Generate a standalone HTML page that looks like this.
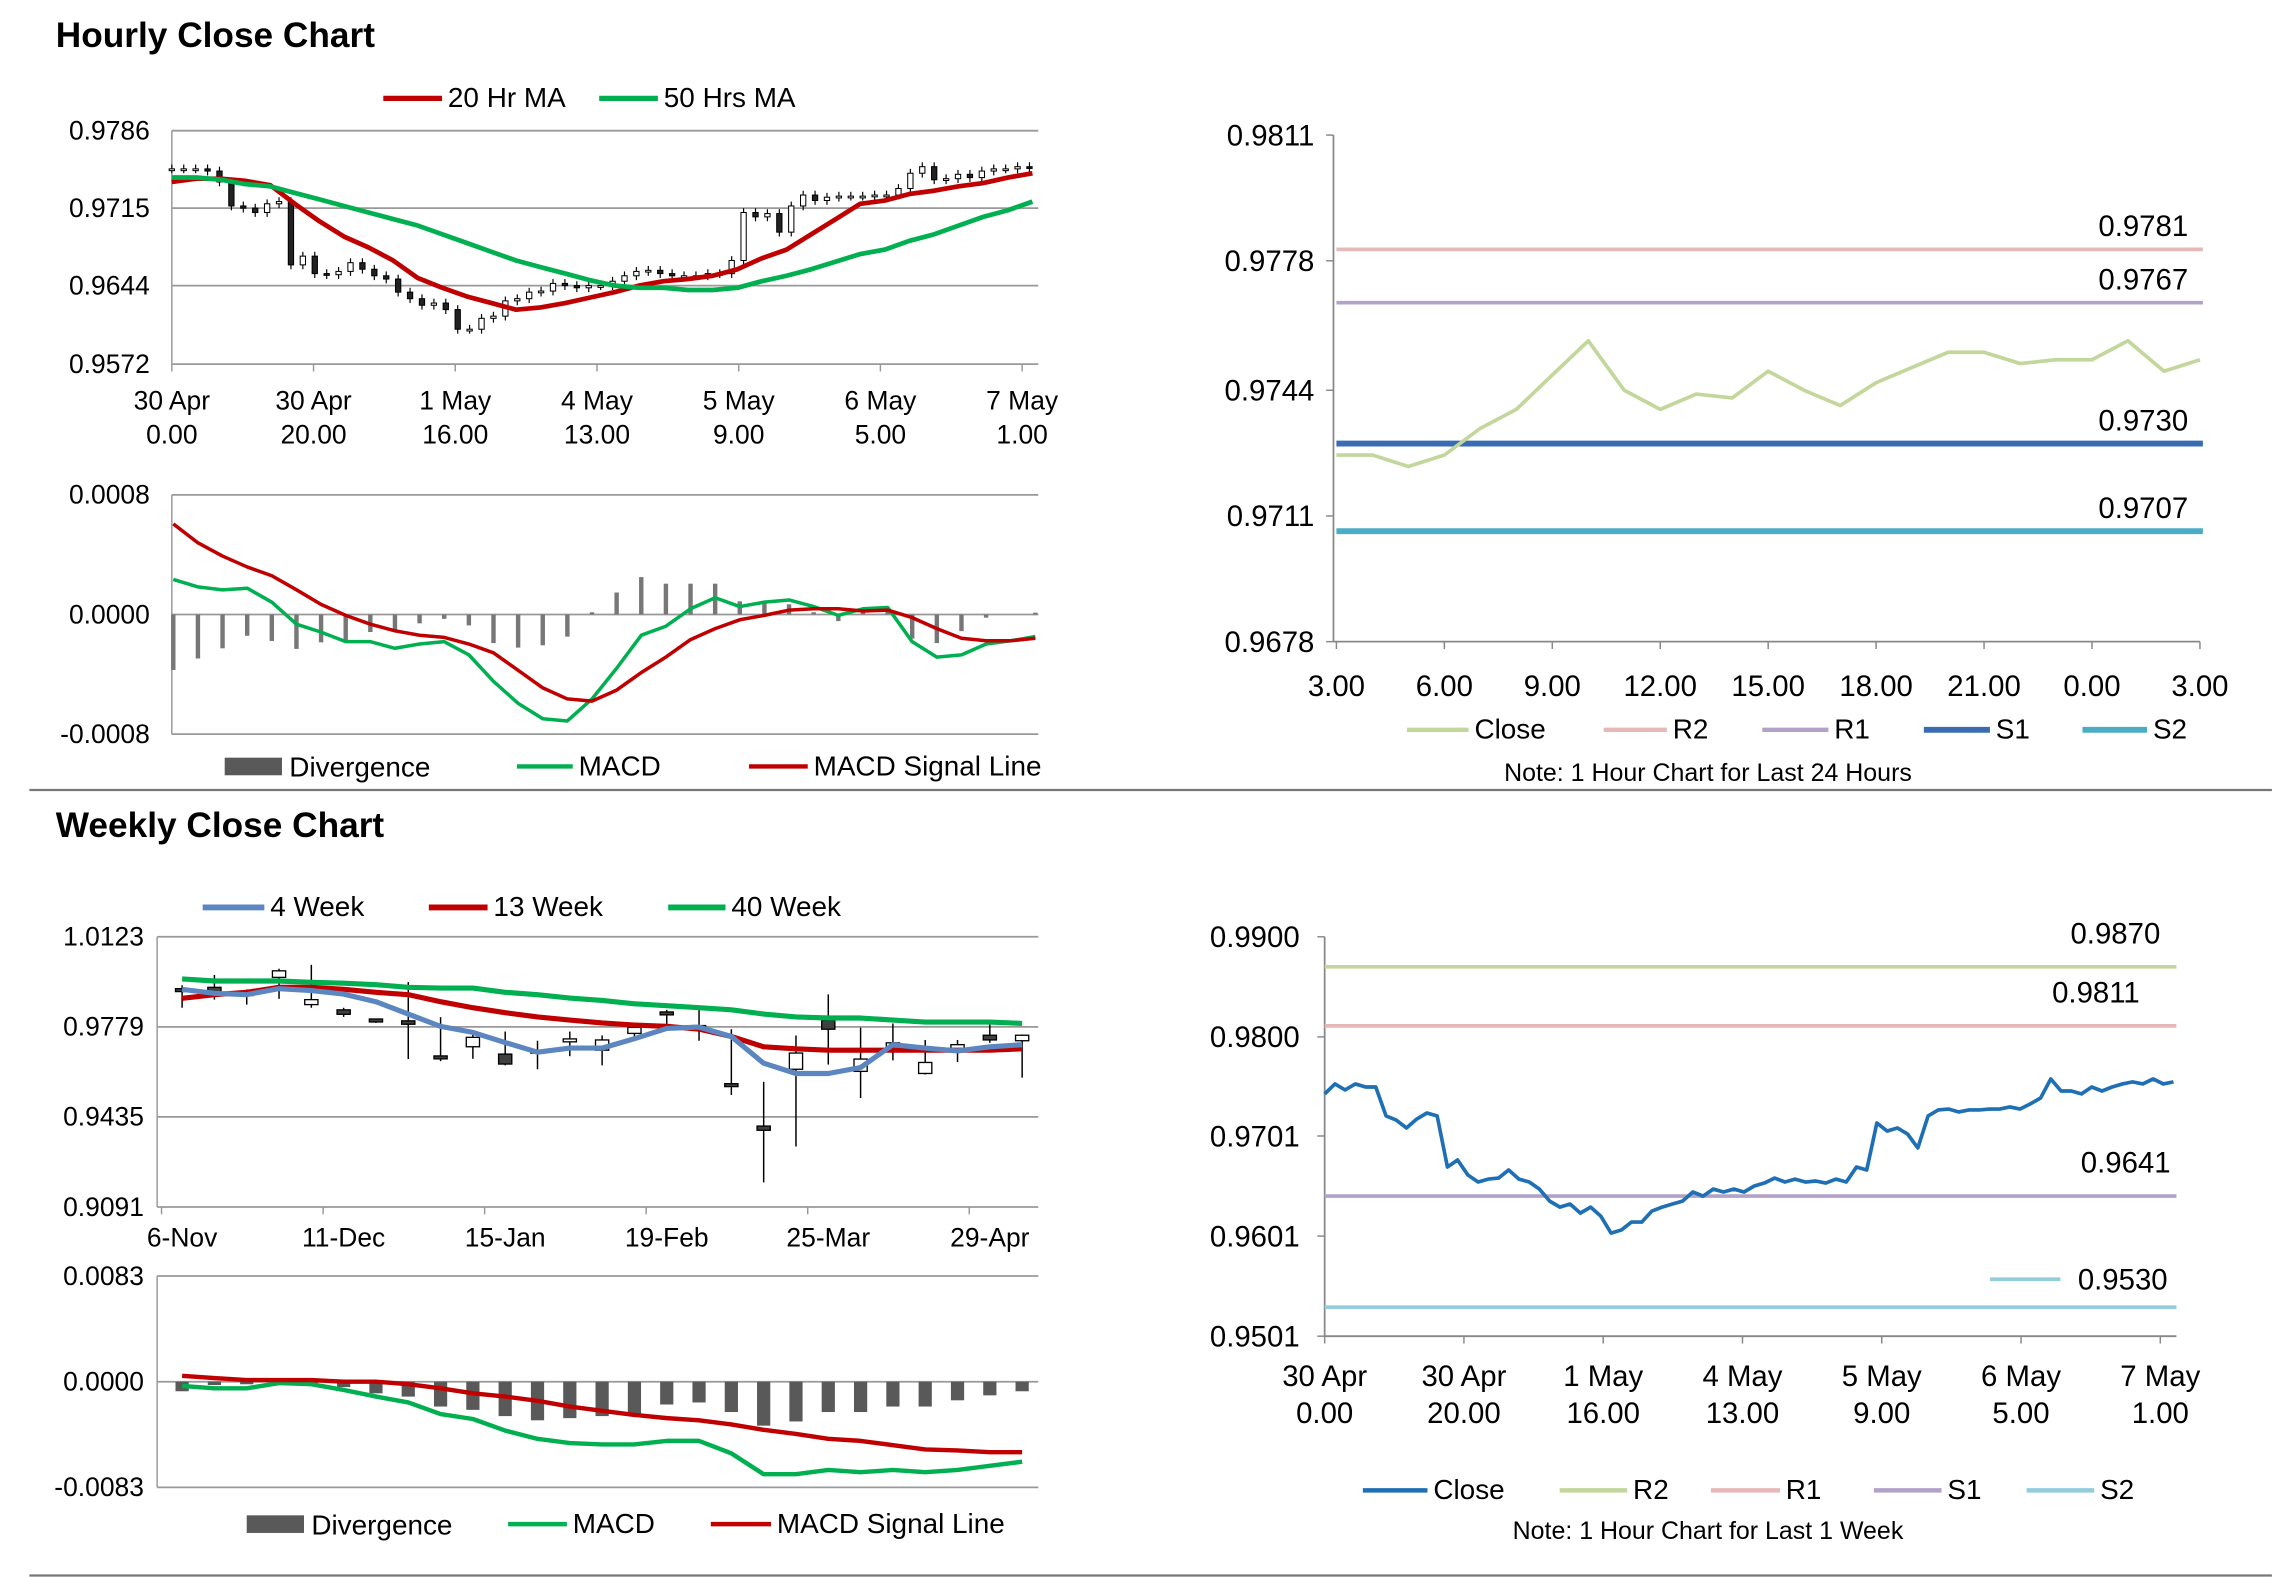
<!DOCTYPE html>
<html><head><meta charset="utf-8">
<style>
html,body{margin:0;padding:0;background:#fff;}
svg{display:block;}
text{font-family:"Liberation Sans Narrow","Liberation Sans",sans-serif;fill:#000;}
.t{font-family:"Liberation Sans",sans-serif;font-weight:bold;}
</style></head>
<body>
<svg id="root" xmlns="http://www.w3.org/2000/svg" width="2291" height="1577" viewBox="0 0 1560 1074" preserveAspectRatio="none">
<rect x="0" y="0" width="1560" height="1074" fill="#fff"/>
<text class="t" x="38" y="32" font-size="24">Hourly Close Chart</text>
<line x1="20" y1="538" x2="1547" y2="538" stroke="#777" stroke-width="1.5"/>
<text class="t" x="38" y="570" font-size="24">Weekly Close Chart</text>
<line x1="20" y1="1073" x2="1547" y2="1073" stroke="#777" stroke-width="1.5"/>
</svg>
<script>
// ---------- data ----------
const hourlyCloses=[0.9751,0.9751,0.9751,0.9749,0.9739,0.9717,0.9715,0.9711,0.9719,0.9721,0.9663,0.9671,0.9655,0.9654,0.9657,0.9665,0.9659,0.9653,0.9650,0.9638,0.9632,0.9626,0.9628,0.9622,0.9604,0.9604,0.9614,0.9616,0.9630,0.9632,0.9638,0.9639,0.9646,0.9644,0.9642,0.9644,0.9644,0.9648,0.9653,0.9657,0.9658,0.9655,0.9653,0.9653,0.9653,0.9655,0.9655,0.9667,0.9711,0.9707,0.9710,0.9693,0.9717,0.9727,0.9722,0.9725,0.9726,0.9726,0.9726,0.9727,0.9727,0.9733,0.9747,0.9753,0.9741,0.9742,0.9746,0.9743,0.9749,0.9751,0.9751,0.9753,0.9752];
const ma20=[0.9739,0.9742,0.9742,0.9740,0.9736,0.9719,0.9703,0.9689,0.9679,0.9667,0.9651,0.9642,0.9634,0.9628,0.9622,0.9624,0.9628,0.9633,0.9638,0.9644,0.9648,0.9650,0.9653,0.9659,0.9669,0.9677,0.9691,0.9705,0.9719,0.9722,0.9728,0.9731,0.9735,0.9738,0.9743,0.9747];
const ma50=[0.9743,0.9743,0.9741,0.9737,0.9735,0.9729,0.9723,0.9717,0.9711,0.9705,0.9699,0.9691,0.9683,0.9675,0.9667,0.9661,0.9655,0.9649,0.9644,0.9642,0.9642,0.9640,0.9640,0.9642,0.9648,0.9653,0.9659,0.9666,0.9673,0.9677,0.9685,0.9691,0.9699,0.9707,0.9713,0.9721];
const hMacd=[2.35,1.85,1.65,1.76,0.82,-0.65,-1.18,-1.82,-1.82,-2.26,-1.97,-1.82,-2.70,-4.47,-5.94,-6.97,-7.12,-5.64,-3.59,-1.38,-0.79,0.38,1.12,0.53,0.82,0.97,0.53,-0.06,0.38,0.47,-1.82,-2.85,-2.70,-1.97,-1.76,-1.47];
const hSignal=[6.06,4.79,3.91,3.18,2.59,1.65,0.68,-0.06,-0.65,-1.09,-1.38,-1.53,-1.97,-2.56,-3.73,-4.91,-5.64,-5.79,-5.06,-3.88,-2.85,-1.68,-0.94,-0.35,-0.06,0.29,0.38,0.38,0.24,0.29,-0.21,-0.94,-1.59,-1.76,-1.76,-1.59];
const hTickLabels=[["30 Apr","0.00"],["30 Apr","20.00"],["1 May","16.00"],["4 May","13.00"],["5 May","9.00"],["6 May","5.00"],["7 May","1.00"]];

const dayClose=[0.9727,0.9727,0.9724,0.9727,0.9734,0.9739,0.9748,0.9757,0.9744,0.9739,0.9743,0.9742,0.9749,0.9744,0.9740,0.9746,0.9750,0.9754,0.9754,0.9751,0.9752,0.9752,0.9757,0.9749,0.9752];
const dayLevels=[0.9781,0.9767,0.9730,0.9707];
const dayLevelNames=["R2","R1","S1","S2"];
const dayTicks=["3.00","6.00","9.00","12.00","15.00","18.00","21.00","0.00","3.00"];

const wOpen=[0.9925,0.9930,0.9910,0.9968,0.9864,0.9844,0.9809,0.9802,0.9668,0.9703,0.9675,0.9690,0.9726,0.9690,0.9754,0.9836,0.9784,0.9562,0.9400,0.9617,0.9804,0.9609,0.9703,0.9601,0.9695,0.9747,0.9726];
const wClose=[0.9917,0.9911,0.9903,0.9993,0.9883,0.9827,0.9798,0.9789,0.9657,0.9739,0.9637,0.9682,0.9733,0.9729,0.9777,0.9827,0.9777,0.9554,0.9384,0.9679,0.9770,0.9656,0.9718,0.9643,0.9711,0.9729,0.9747];
const wHigh=[0.9938,0.9977,0.9922,1.0001,1.0016,0.9852,0.9809,0.9950,0.9816,0.9750,0.9761,0.9726,0.9761,0.9746,0.9781,0.9844,0.9844,0.9770,0.9569,0.9746,0.9903,0.9776,0.9792,0.9729,0.9729,0.9789,0.9750];
const wLow=[0.9852,0.9883,0.9864,0.9886,0.9852,0.9817,0.9794,0.9656,0.9648,0.9657,0.9632,0.9617,0.9667,0.9632,0.9742,0.9781,0.9726,0.9519,0.9185,0.9322,0.9635,0.9507,0.9651,0.9597,0.9645,0.9718,0.9585];
const w4=[0.9922,0.9907,0.9902,0.9925,0.9918,0.9904,0.9875,0.9828,0.9781,0.9758,0.9719,0.9682,0.9698,0.9698,0.9734,0.9773,0.9778,0.9742,0.9640,0.9601,0.9601,0.9624,0.9711,0.9698,0.9687,0.9703,0.9711];
const w13=[0.9888,0.9902,0.9911,0.9930,0.9930,0.9922,0.9911,0.9902,0.9875,0.9852,0.9833,0.9817,0.9805,0.9794,0.9786,0.9781,0.9770,0.9742,0.9703,0.9695,0.9690,0.9690,0.9690,0.9690,0.9690,0.9690,0.9695];
const w40=[0.9962,0.9954,0.9954,0.9954,0.9949,0.9946,0.9940,0.9930,0.9927,0.9927,0.9911,0.9902,0.9889,0.9880,0.9867,0.9860,0.9852,0.9844,0.9828,0.9817,0.9813,0.9813,0.9805,0.9797,0.9797,0.9797,0.9792];
const wTickLabels=["6-Nov","11-Dec","15-Jan","19-Feb","25-Mar","29-Apr"];
const wDiv=[-7.5,-2.6,-2.0,-0.3,-1.0,-4.2,-9.1,-11.7,-19.5,-22.1,-27.0,-30.3,-28.6,-27.0,-25.4,-17.9,-16.3,-23.8,-34.5,-31.2,-23.8,-23.8,-19.5,-19.5,-14.6,-10.7,-7.5];
const wMacd=[-3.3,-5.2,-5.2,-1.0,-2.0,-6.5,-11.7,-16.3,-25.4,-29.3,-38.4,-44.9,-48.2,-49.2,-49.2,-46.5,-46.5,-56.3,-72.6,-72.6,-69.3,-71.0,-69.3,-71.0,-69.3,-66.1,-62.8];
const wSignal=[4.6,2.9,1.3,1.3,1.3,0,0,-2.0,-5.2,-9.1,-11.7,-15.0,-19.5,-22.8,-26.0,-28.6,-30.3,-33.5,-37.8,-41.0,-44.9,-46.5,-49.8,-53.1,-54.0,-55.3,-55.3];

const weekClose=[0.9743,0.9753,0.9747,0.9753,0.9750,0.9750,0.9721,0.9717,0.9709,0.9718,0.9724,0.9721,0.9670,0.9677,0.9662,0.9655,0.9658,0.9659,0.9667,0.9658,0.9655,0.9648,0.9636,0.9630,0.9633,0.9624,0.9630,0.9621,0.9604,0.9607,0.9615,0.9615,0.9626,0.9630,0.9633,0.9636,0.9645,0.9641,0.9648,0.9645,0.9648,0.9645,0.9651,0.9654,0.9659,0.9655,0.9658,0.9655,0.9656,0.9654,0.9658,0.9655,0.9670,0.9667,0.9714,0.9706,0.9709,0.9703,0.9689,0.9721,0.9727,0.9728,0.9725,0.9727,0.9727,0.9728,0.9728,0.9730,0.9728,0.9733,0.9739,0.9758,0.9746,0.9746,0.9743,0.9750,0.9746,0.9750,0.9753,0.9755,0.9753,0.9758,0.9753,0.9755];
const weekLevels=[0.9870,0.9811,0.9641,0.9530];
const weekLevelNames=["R2","R1","S1","S2"];
const weekYTicks=[0.9900,0.9800,0.9701,0.9601,0.9501];

// ---------- helpers ----------
const NS='http://www.w3.org/2000/svg';
const root=document.getElementById('root');
function mk(tag,attrs,parent){const e=document.createElementNS(NS,tag);for(const k in attrs)e.setAttribute(k,attrs[k]);(parent||root).appendChild(e);return e;}
function lin(d0,d1,r0,r1){return v=>r0+(v-d0)/(d1-d0)*(r1-r0);}
function txt(x,y,s,size,anchor,parent){const e=mk('text',{x:x,y:y,'font-size':size,'text-anchor':anchor||'start'},parent);e.textContent=s;return e;}
function poly(arr,xs,ys,color,w,parent){return mk('polyline',{points:arr.map((v,i)=>xs(i).toFixed(1)+','+ys(v).toFixed(1)).join(' '),fill:'none',stroke:color,'stroke-width':w,'stroke-linejoin':'round'},parent);}
function legLine(x1,x2,y,color,w,label,parent){const g=mk('g',{},parent);mk('line',{x1:x1,y1:y,x2:x2,y2:y,stroke:color,'stroke-width':w},g);txt(x2+4,y+6,label,19,'start',g);return g;}
const RED='#c00000',GRN='#00b050';

// ---------- Chart 1: hourly candles ----------
(function(){
  const g=mk('g',{});
  
  
  const ys=lin(0.9572,0.9786,248,89);
  [0.9786,0.9715,0.9644,0.9572].forEach(v=>{
    const l=mk('line',{x1:117,y1:ys(v),x2:707,y2:ys(v),stroke:'#999','stroke-width':1.2},g);
    
    
    const t=txt(102,ys(v)+6,v.toFixed(4),18,'end',g);
    
    
  });
  mk('line',{x1:117,y1:89,x2:117,y2:248,stroke:'#999','stroke-width':1},g);
  const xt=lin(0,6,117,696);
  hTickLabels.forEach((p,i)=>{
    mk('line',{x1:xt(i),y1:248,x2:xt(i),y2:253,stroke:'#999'},g);
    const t=txt(xt(i),279,p[0],18,'middle',g);
    
    
    txt(xt(i),302,p[1],18,'middle',g);
  });
  const xc=lin(0,hourlyCloses.length-1,117,701);
  hourlyCloses.forEach((c,i)=>{
    const o=i?hourlyCloses[i-1]:c;
    const hi=Math.max(o,c)+0.0004, lo=Math.min(o,c)-0.0004;
    const cg=mk('g',{},g);
    
    
    mk('line',{x1:xc(i),y1:ys(hi),x2:xc(i),y2:ys(lo),stroke:'#000','stroke-width':0.8},cg);
    const top=ys(Math.max(o,c)),h=Math.max(1.2,ys(Math.min(o,c))-top);
    mk('rect',{x:xc(i)-1.8,y:top,width:3.6,height:h,fill:c<o?'#222':'#fff',stroke:'#000','stroke-width':0.7},cg);
  });
  const xm=lin(0,ma20.length-1,117,703);
  const r=poly(ma20,xm,ys,RED,3.2,g);
  
  
  const gr=poly(ma50,xm,ys,GRN,3.2,g);
  
  
  const l1=legLine(261,301,67,RED,3.5,'20 Hr MA',g);
  
  
  const l2=legLine(408,448,67,GRN,3.5,'50 Hrs MA',g);
  
  
})();

// ---------- Chart 1b: hourly MACD ----------
(function(){
  const g=mk('g',{});
  
  
  const ys=lin(-8,8,500,337);
  [[8,'0.0008'],[0,'0.0000'],[-8,'-0.0008']].forEach(p=>{
    mk('line',{x1:117,y1:ys(p[0]),x2:707,y2:ys(p[0]),stroke:'#999','stroke-width':1.2},g);
    const t=txt(102,ys(p[0])+6,p[1],18,'end',g);
    
    
  });
  mk('line',{x1:117,y1:337,x2:117,y2:500,stroke:'#999'},g);
  const xm=lin(0,hMacd.length-1,118,705);
  hMacd.forEach((m,i)=>{
    const d=m-hSignal[i];
    const b=mk('rect',{x:xm(i)-1.5,y:Math.min(ys(0),ys(d)),width:3,height:Math.abs(ys(d)-ys(0)),fill:'#777'},g);
    
    
  });
  const a=poly(hMacd,xm,ys,GRN,2.4,g);
  
  
  const s=poly(hSignal,xm,ys,RED,2.4,g);
  
  
  const lg=mk('g',{},g);
  
  
  mk('rect',{x:153,y:516,width:39,height:12,fill:'#595959'},lg);
  txt(197,529,'Divergence',19,'start',lg);
  legLine(352,390,522,GRN,3,'MACD',lg);
  legLine(510,550,522,RED,3,'MACD Signal Line',lg);
})();

// ---------- Chart 2: last 24 hours ----------
(function(){
  const g=mk('g',{});
  
  
  const ys=lin(0.9678,0.9811,437,92);
  mk('line',{x1:908,y1:92,x2:908,y2:437,stroke:'#888','stroke-width':1.2},g);
  mk('line',{x1:908,y1:437,x2:1498,y2:437,stroke:'#888','stroke-width':1.2},g);
  [0.9811,0.9778,0.9744,0.9711,0.9678].forEach(v=>{
    mk('line',{x1:903,y1:ys(v),x2:908,y2:ys(v),stroke:'#888'},g);
    const t=txt(895,ys(v)+7,v.toFixed(4),20,'end',g);
    
    
  });
  const xt=lin(0,dayTicks.length-1,910,1498);
  dayTicks.forEach((s,i)=>{
    mk('line',{x1:xt(i),y1:437,x2:xt(i),y2:442,stroke:'#888'},g);
    const t=txt(xt(i),474,s,20,'middle',g);
    
    
  });
  const cols=['#e6b9b8','#b3a2c7','#3a6cb4','#4bacc6'], ws=[2.5,2.5,4,4];
  dayLevels.forEach((v,i)=>{
    const l=mk('line',{x1:910,y1:ys(v),x2:1500,y2:ys(v),stroke:cols[i],'stroke-width':ws[i]},g);
    
    
    const t=txt(1490,ys(v)-9,v.toFixed(4),20,'end',g);
    
    
  });
  const xs=lin(0,dayClose.length-1,910,1498);
  const c=poly(dayClose,xs,ys,'#c3d69b',2.5,g);
  
  
  const lg=mk('g',{},g);
  
  
  legLine(958,1000,497,'#c3d69b',3,'Close',lg);
  legLine(1092,1135,497,cols[0],3,'R2',lg);
  legLine(1200,1245,497,cols[1],3,'R1',lg);
  legLine(1310,1355,497,cols[2],4,'S1',lg);
  legLine(1418,1462,497,cols[3],4,'S2',lg);
  const n=txt(1163,532,'Note: 1 Hour Chart for Last 24 Hours',17,'middle',g);
  
  
})();

// ---------- Chart 3: weekly candles ----------
(function(){
  const g=mk('g',{});
  
  
  const ys=lin(0.9091,1.0123,822,638);
  [1.0123,0.9779,0.9435,0.9091].forEach(v=>{
    mk('line',{x1:107,y1:ys(v),x2:707,y2:ys(v),stroke:'#999','stroke-width':1.2},g);
    const t=txt(98,ys(v)+6,v.toFixed(4),18,'end',g);
    
    
  });
  mk('line',{x1:107,y1:638,x2:107,y2:822,stroke:'#999'},g);
  const xs=lin(0,wOpen.length-1,124,696);
  wTickLabels.forEach((s,i)=>{
    const x=xs(i*5);
    mk('line',{x1:x-14,y1:822,x2:x-14,y2:827,stroke:'#999'},g);
    const t=txt(x,849,s,18,'middle',g);
    
    
  });
  wOpen.forEach((o,i)=>{
    const c=wClose[i];
    const cg=mk('g',{},g);
    
    
    mk('line',{x1:xs(i),y1:ys(wHigh[i]),x2:xs(i),y2:ys(wLow[i]),stroke:'#000','stroke-width':1},cg);
    const top=ys(Math.max(o,c));
    mk('rect',{x:xs(i)-4.5,y:top,width:9,height:Math.max(2,ys(Math.min(o,c))-top),fill:c<o?'#404040':'#fff',stroke:'#000','stroke-width':0.9},cg);
  });
  const a=poly(w40,xs,ys,GRN,3.5,g);
  
  
  const b=poly(w13,xs,ys,RED,3.5,g);
  
  
  const c=poly(w4,xs,ys,'#5b86c0',3.5,g);
  
  
  const lg=mk('g',{},g);
  
  
  legLine(138,180,618,'#5b86c0',4,'4 Week',lg);
  legLine(292,332,618,RED,4,'13 Week',lg);
  legLine(455,494,618,GRN,4,'40 Week',lg);
})();

// ---------- Chart 3b: weekly MACD ----------
(function(){
  const g=mk('g',{});
  
  
  const ys=lin(-83,83,1013,869);
  [[83,'0.0083'],[0,'0.0000'],[-83,'-0.0083']].forEach(p=>{
    mk('line',{x1:107,y1:ys(p[0]),x2:707,y2:ys(p[0]),stroke:'#999','stroke-width':1.2},g);
    const t=txt(98,ys(p[0])+6,p[1],18,'end',g);
    
    
  });
  mk('line',{x1:107,y1:869,x2:107,y2:1013,stroke:'#999'},g);
  const xs=lin(0,wDiv.length-1,124,696);
  wDiv.forEach((d,i)=>{
    const b=mk('rect',{x:xs(i)-4.5,y:Math.min(ys(0),ys(d)),width:9,height:Math.abs(ys(d)-ys(0)),fill:'#595959'},g);
    
    
  });
  const a=poly(wMacd,xs,ys,GRN,3,g);
  
  
  const s=poly(wSignal,xs,ys,RED,3,g);
  
  
  const lg=mk('g',{},g);
  
  
  mk('rect',{x:168,y:1032,width:39,height:12,fill:'#595959'},lg);
  txt(212,1045,'Divergence',19,'start',lg);
  legLine(346,386,1038,GRN,3,'MACD',lg);
  legLine(484,525,1038,RED,3,'MACD Signal Line',lg);
})();

// ---------- Chart 4: last 1 week hourly ----------
(function(){
  const g=mk('g',{});
  
  
  const ys=lin(0.9501,0.9900,910,638);
  mk('line',{x1:902,y1:638,x2:902,y2:910,stroke:'#888','stroke-width':1.2},g);
  mk('line',{x1:902,y1:910,x2:1482,y2:910,stroke:'#888','stroke-width':1.2},g);
  weekYTicks.forEach(v=>{
    mk('line',{x1:897,y1:ys(v),x2:902,y2:ys(v),stroke:'#888'},g);
    const t=txt(885,ys(v)+7,v.toFixed(4),20,'end',g);
    
    
  });
  const xt=lin(0,6,902,1471);
  hTickLabels.forEach((p,i)=>{
    mk('line',{x1:xt(i),y1:910,x2:xt(i),y2:915,stroke:'#888'},g);
    const t=txt(xt(i),944,p[0],20,'middle',g);
    
    
    txt(xt(i),969,p[1],20,'middle',g);
  });
  const cols=['#c3d69b','#e6b9b8','#b3a2c7','#92cddc'];
  const lx=[1471,1457,1478,1476];
  weekLevels.forEach((v,i)=>{
    const l=mk('line',{x1:902,y1:ys(v),x2:1482,y2:ys(v),stroke:cols[i],'stroke-width':2.5},g);
    
    
    const t=txt(lx[i],ys(v)-(i==3?12:16),v.toFixed(4),20,'end',g);
    
    
  });
  mk('line',{x1:1355,y1:ys(weekLevels[3])-19,x2:1403,y2:ys(weekLevels[3])-19,stroke:cols[3],'stroke-width':2.5},g);
  const xs=lin(0,weekClose.length-1,902,1480);
  const c=poly(weekClose,xs,ys,'#1f6fb4',2.5,g);
  
  
  const lg=mk('g',{},g);
  
  
  legLine(928,972,1015,'#1f6fb4',3,'Close',lg);
  legLine(1062,1108,1015,cols[0],3,'R2',lg);
  legLine(1165,1212,1015,cols[1],3,'R1',lg);
  legLine(1276,1322,1015,cols[2],3,'S1',lg);
  legLine(1380,1426,1015,cols[3],3,'S2',lg);
  const n=txt(1163,1048,'Note: 1 Hour Chart for Last 1 Week',17,'middle',g);
  
  
})();
</script>
</body></html>
